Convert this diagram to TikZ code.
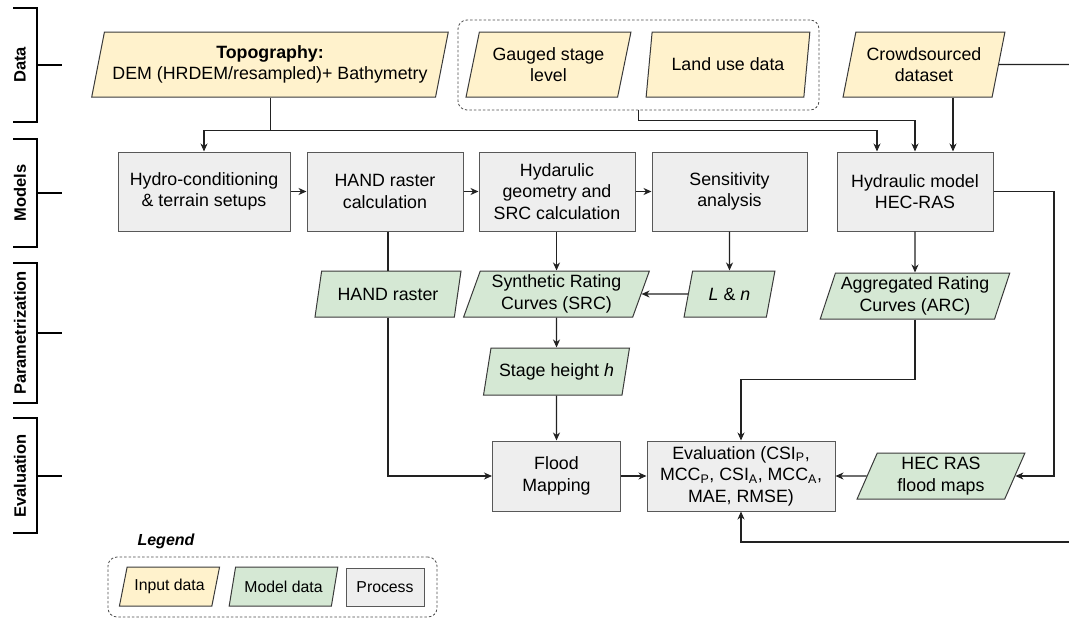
\documentclass[tikz,border=0pt]{standalone}
\usepackage{fontspec}
\setmainfont{Liberation Sans}
\usetikzlibrary{shapes.geometric,arrows.meta,calc}
\definecolor{inpfill}{HTML}{FFF2CC}
\definecolor{modfill}{HTML}{D5E8D4}
\definecolor{procfill}{HTML}{EEEEEE}
\definecolor{edgec}{HTML}{3A3A3A}
\definecolor{wire}{HTML}{222222}
\begin{document}
\begin{tikzpicture}[x=1pt,y=-1pt,
  every node/.style={font=\fontsize{17.8pt}{21.5pt}\selectfont, align=center},
  para/.style={trapezium, trapezium left angle=70, trapezium right angle=110, trapezium stretches=true, draw=edgec, line width=1pt, inner xsep=2pt, inner ysep=1pt},
  inp/.style={para, fill=inpfill, trapezium left angle=73, trapezium right angle=107},
  mdl/.style={para, fill=modfill},
  proc/.style={rectangle, draw=edgec!85, fill=procfill, line width=1pt, inner sep=2pt},
  grpbox/.style={rectangle, rounded corners=9pt, draw=black!70, dash pattern=on 2.5pt off 2pt, line width=0.8pt},
  conn/.style={draw=wire, line width=1.05pt},
  arr/.style={conn, -{Stealth[length=8pt,width=7pt,inset=2.5pt]}},
  lane/.style={font=\fontsize{16.5pt}{18pt}\selectfont\bfseries, rotate=90},
  brk/.style={draw=black, line width=1.3pt},
  legfont/.style={font=\fontsize{15.8pt}{18pt}\selectfont}
]
\useasboundingbox (0,0) rectangle (1069,619);

% lanes
\node[lane] (lData) at (20,65) {Data};
\node[lane] (lModels) at (20,193) {Models};
\node[lane] (lParam) at (20,333) {Parametrization};
\node[lane] (lEval) at (20,476) {Evaluation};
\draw[brk] (13,8) -- (37,8) -- (37,122) -- (13,122);
\draw[brk] (37,65) -- (62,65);
\draw[brk] (13,139) -- (37,139) -- (37,247) -- (13,247);
\draw[brk] (37,193) -- (62,193);
\draw[brk] (13,263) -- (37,263) -- (37,403) -- (13,403);
\draw[brk] (37,333) -- (62,333);
\draw[brk] (13,418) -- (37,418) -- (37,533) -- (13,533);
\draw[brk] (37,476) -- (62,476);

% data row
\node[grpbox, minimum width=361pt, minimum height=90pt] (grp) at (638.5,65) {};
\node[inp, minimum width=358pt, minimum height=65pt] (topo) at (270,64.5) {\textbf{Topography:}\\DEM (HRDEM/resampled)+ Bathymetry};
\node[inp, minimum width=165pt, minimum height=65pt] (gauge) at (548.5,64.5) {Gauged stage\\level};
\node[inp, minimum width=164pt, minimum height=65pt] (land) at (728,64.5) {Land use data};
\node[inp, minimum width=162pt, minimum height=65pt] (crowd) at (924,64.5) {Crowdsourced\\dataset};

% models row
\node[proc, minimum width=172pt, minimum height=79pt] (hydro) at (204,191.5) {Hydro-conditioning\\\& terrain setups};
\node[proc, minimum width=156pt, minimum height=79pt] (handcalc) at (385,191.5) {HAND raster\\calculation};
\node[proc, minimum width=156pt, minimum height=79pt] (hydgeo) at (557,191.5) {Hydarulic\\geometry and\\SRC calculation};
\node[proc, minimum width=155pt, minimum height=79pt] (sens) at (729.5,191.5) {Sensitivity\\analysis};
\node[proc, minimum width=156pt, minimum height=79pt] (hyd) at (915,191.5) {Hydraulic model\\HEC-RAS};

% parametrization row
\node[mdl, minimum width=146pt, minimum height=46pt] (handr) at (388,294) {HAND raster};
\node[mdl, minimum width=186pt, minimum height=46pt] (src) at (556.5,294) {Synthetic Rating\\Curves (SRC)};
\node[mdl, minimum width=91pt, minimum height=46pt] (ln) at (729.5,294) {\textit{L} \& \textit{n}};
\node[mdl, minimum width=190pt, minimum height=46pt] (arc) at (915,296) {Aggregated Rating\\Curves (ARC)};
\node[mdl, minimum width=146pt, minimum height=47pt] (stage) at (556.5,371.5) {Stage height \textit{h}};

% evaluation row
\node[proc, minimum width=128pt, minimum height=70pt] (flood) at (556.5,476) {Flood\\Mapping};
\node[proc, minimum width=188pt, minimum height=70pt] (eval) at (741,476) {Evaluation (CSI\textsubscript{P},\\MCC\textsubscript{P}, CSI\textsubscript{A}, MCC\textsubscript{A},\\MAE, RMSE)};
\node[mdl, minimum width=168pt, minimum height=46pt] (hec) at (941,476) {HEC RAS\\flood maps};

% legend
\node[font=\fontsize{16pt}{18pt}\selectfont\bfseries\itshape] (legt) at (166,541) {Legend};
\node[grpbox, minimum width=329pt, minimum height=60pt] (legbox) at (272.5,587) {};
\node[inp, legfont, trapezium left angle=68, trapezium right angle=112, minimum width=101pt, minimum height=39pt] (lin) at (169.5,586.5) {Input data};
\node[mdl, legfont, trapezium left angle=68, trapezium right angle=112, minimum width=109pt, minimum height=39pt] (lmod) at (283.5,586.5) {Model data};
\node[proc, legfont, minimum width=78pt, minimum height=38pt] (lproc) at (385,587) {Process};

% connectors
\coordinate (topoJ) at ($(topo.south)+(0,33)$);
\coordinate (hydL) at ($(hyd.north)+(-38,0)$);
\coordinate (hydR) at ($(hyd.north)+(38,0)$);
\draw[conn] (topo.south) -- (topoJ);
\draw[arr] (topoJ) -| (hydro.north);
\draw[arr] (topoJ) -| (hydL);
\draw[arr] (grp.south) -- ++(0,10) -| (hyd.north);
\draw[arr] (crowd.south -| hydR) -- (hydR);
\coordinate (crowdEnd) at (1069,64.5);
\draw[conn] (crowd.east) -- (crowdEnd);

\draw[arr] (hydro.east) -- (handcalc.west);
\draw[arr] (handcalc.east) -- (hydgeo.west);
\draw[arr] (hydgeo.east) -- (sens.west);

\draw[conn] (handcalc.south -| handr.north) -- (handr.north);
\draw[arr] (handr.south) |- (flood.west);
\draw[arr] (hydgeo.south -| src.north) -- (src.north);
\draw[arr] (sens.south) -- (ln.north);
\draw[arr] (ln.west) -- (src.east);
\draw[arr] (hyd.south) -- (arc.north);
\draw[arr] (src.south) -- (stage.north);
\draw[arr] (stage.south) -- (flood.north);
\draw[arr] (arc.south) -- ++(0,60) -| (eval.north);
\draw[arr] (flood.east) -- (eval.west);
\draw[arr] (hec.west) -- (eval.east);
\coordinate (rt) at (1054,0);
\draw[arr] (hyd.east) -- (hyd.east -| rt) |- (hec.east);
\coordinate (botR) at (1069,542);
\draw[arr] (botR) -| (eval.south);
\end{tikzpicture}
\end{document}
